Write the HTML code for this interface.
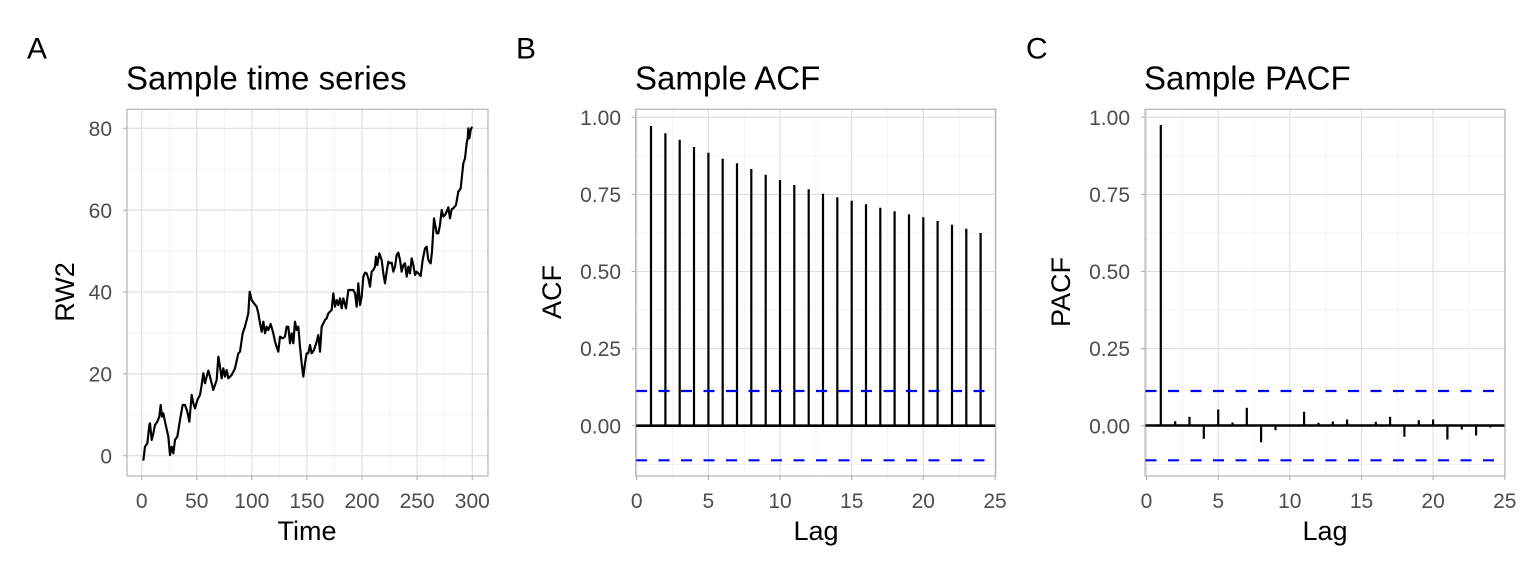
<!DOCTYPE html>
<html><head><meta charset="utf-8"><style>
html,body{margin:0;padding:0;background:#fff;}
svg{display:block;font-family:"Liberation Sans",sans-serif;}
.t{font-size:21px;fill:#4d4d4d;}
.ti{font-size:33px;fill:#000;}
.lt{font-size:30px;fill:#000;}
.ax{font-size:27px;fill:#000;}
.mj{stroke:#dedede;stroke-width:1.1;}
.mn{stroke:#ededed;stroke-width:0.6;}
.bd{fill:none;stroke:#b3b3b3;stroke-width:1.2;}
.tk{stroke:#b3b3b3;stroke-width:1.1;}
.bl{stroke:#0000ff;stroke-width:2.2;stroke-dasharray:11,11.5;}
.st{stroke:#000;stroke-width:2.2;}
</style></head><body>
<svg width="1536" height="576" viewBox="0 0 1536 576">
<rect width="1536" height="576" fill="#fff"/>
<!-- Panel A -->
<text x="27" y="58.5" class="lt">A</text>
<text x="126" y="89.3" class="ti">Sample time series</text>
<g>
<line class="mn" x1="127" x2="488" y1="414.8" y2="414.8"/><line class="mn" x1="127" x2="488" y1="332.9" y2="332.9"/><line class="mn" x1="127" x2="488" y1="251.1" y2="251.1"/><line class="mn" x1="127" x2="488" y1="169.2" y2="169.2"/>
<line class="mn" y1="109" y2="476" x1="169.3" x2="169.3"/><line class="mn" y1="109" y2="476" x1="224.3" x2="224.3"/><line class="mn" y1="109" y2="476" x1="279.4" x2="279.4"/><line class="mn" y1="109" y2="476" x1="334.5" x2="334.5"/><line class="mn" y1="109" y2="476" x1="389.6" x2="389.6"/><line class="mn" y1="109" y2="476" x1="444.7" x2="444.7"/>
<line class="mj" x1="127" x2="488" y1="455.7" y2="455.7"/><line class="mj" x1="127" x2="488" y1="373.85" y2="373.85"/><line class="mj" x1="127" x2="488" y1="292" y2="292"/><line class="mj" x1="127" x2="488" y1="210.2" y2="210.2"/><line class="mj" x1="127" x2="488" y1="128.3" y2="128.3"/>
<line class="mj" y1="109" y2="476" x1="141.7" x2="141.7"/><line class="mj" y1="109" y2="476" x1="196.8" x2="196.8"/><line class="mj" y1="109" y2="476" x1="251.8" x2="251.8"/><line class="mj" y1="109" y2="476" x1="306.9" x2="306.9"/><line class="mj" y1="109" y2="476" x1="362" x2="362"/><line class="mj" y1="109" y2="476" x1="417.1" x2="417.1"/><line class="mj" y1="109" y2="476" x1="472.3" x2="472.3"/>
<g transform="translate(100,100) scale(0.33333)">
<polyline fill="none" stroke="#000" stroke-width="6.5" stroke-linejoin="round" points="130,1082 135,1040 142,1030 148,975 150,970 155,1020 160,1000 165,975 172,965 178,950 182,915 186,950 190,940 195,965 205,1010 210,1065 215,1040 220,1060 225,1020 232,1010 240,960 248,915 255,915 262,935 268,965 275,885 280,910 285,925 292,900 300,885 305,855 310,820 315,850 320,830 325,812 330,830 340,870 350,840 355,770 360,800 365,835 370,805 375,830 380,810 385,835 395,825 405,805 415,760 420,755 428,700 435,680 440,660 445,640 449,575 455,600 462,610 470,620 475,640 480,670 485,695 490,665 495,700 500,680 505,690 512,672 520,700 525,725 535,755 540,710 548,715 555,710 560,680 565,680 570,730 575,700 580,730 585,665 590,690 595,680 600,740 605,790 610,830 615,790 620,760 625,760 630,735 635,760 642,750 650,725 655,705 660,755 665,680 670,670 675,660 680,655 685,640 695,630 700,580 705,620 710,600 715,615 720,595 725,625 730,595 738,625 745,570 750,570 760,570 765,580 770,620 775,550 780,615 785,590 790,530 795,518 800,520 805,535 810,560 815,515 820,510 825,500 828,470 832,495 838,460 845,480 850,520 855,550 860,515 865,485 870,490 875,488 880,515 885,500 890,465 895,458 900,480 905,515 910,495 915,490 920,530 925,500 930,520 935,475 940,495 945,525 950,515 955,520 962,528 968,480 975,445 980,440 985,480 992,490 996,455 1002,355 1010,400 1015,400 1020,375 1025,330 1030,350 1035,345 1040,335 1045,322 1050,355 1055,328 1060,325 1068,315 1075,275 1082,265 1090,190 1095,175 1100,130 1103,115 1105,85 1108,115 1112,90 1116,80"/>
</g>
<rect class="bd" x="127" y="109.3" width="361" height="366.7"/>
<g class="tk"><line x1="141.7" x2="141.7" y1="476" y2="480"/><line x1="196.8" x2="196.8" y1="476" y2="480"/><line x1="251.8" x2="251.8" y1="476" y2="480"/><line x1="306.9" x2="306.9" y1="476" y2="480"/><line x1="362" x2="362" y1="476" y2="480"/><line x1="417.1" x2="417.1" y1="476" y2="480"/><line x1="472.3" x2="472.3" y1="476" y2="480"/>
<line x1="123" x2="127" y1="455.7" y2="455.7"/><line x1="123" x2="127" y1="373.85" y2="373.85"/><line x1="123" x2="127" y1="292" y2="292"/><line x1="123" x2="127" y1="210.2" y2="210.2"/><line x1="123" x2="127" y1="128.3" y2="128.3"/></g>
<g class="t" text-anchor="middle"><text x="141.7" y="508">0</text><text x="196.8" y="508">50</text><text x="251.8" y="508">100</text><text x="306.9" y="508">150</text><text x="362" y="508">200</text><text x="417.1" y="508">250</text><text x="472.3" y="508">300</text></g>
<g class="t" text-anchor="end"><text x="112" y="463.3">0</text><text x="112" y="381.4">20</text><text x="112" y="299.6">40</text><text x="112" y="217.8">60</text><text x="112" y="135.9">80</text></g>
<text x="307" y="540" class="ax" text-anchor="middle">Time</text>
<text transform="translate(74,292) rotate(-90)" class="ax" text-anchor="middle">RW2</text>
</g>

<!-- Panel B -->
<text x="516" y="58.5" class="lt">B</text>
<text x="635" y="89.3" class="ti">Sample ACF</text>
<g>
<g class="mn"><line x1="636" x2="996" y1="155.9" y2="155.9"/><line x1="636" x2="996" y1="233" y2="233"/><line x1="636" x2="996" y1="310" y2="310"/><line x1="636" x2="996" y1="387.2" y2="387.2"/><line x1="636" x2="996" y1="464.3" y2="464.3"/>
<line y1="109" y2="476" x1="672.5" x2="672.5"/><line y1="109" y2="476" x1="744.2" x2="744.2"/><line y1="109" y2="476" x1="815.9" x2="815.9"/><line y1="109" y2="476" x1="887.6" x2="887.6"/><line y1="109" y2="476" x1="959.3" x2="959.3"/></g>
<g class="mj"><line x1="636" x2="996" y1="117.3" y2="117.3"/><line x1="636" x2="996" y1="194.4" y2="194.4"/><line x1="636" x2="996" y1="271.5" y2="271.5"/><line x1="636" x2="996" y1="348.6" y2="348.6"/><line x1="636" x2="996" y1="425.7" y2="425.7"/>
<line y1="109" y2="476" x1="636.7" x2="636.7"/><line y1="109" y2="476" x1="708.4" x2="708.4"/><line y1="109" y2="476" x1="780" x2="780"/><line y1="109" y2="476" x1="851.7" x2="851.7"/><line y1="109" y2="476" x1="923.3" x2="923.3"/><line y1="109" y2="476" x1="995" x2="995"/></g>
<g class="st">
<line x1="651" x2="651" y1="425.7" y2="126"/><line x1="665.4" x2="665.4" y1="425.7" y2="133.3"/><line x1="679.7" x2="679.7" y1="425.7" y2="139.7"/><line x1="694" x2="694" y1="425.7" y2="147"/><line x1="708.4" x2="708.4" y1="425.7" y2="152.7"/><line x1="722.7" x2="722.7" y1="425.7" y2="158.7"/><line x1="737" x2="737" y1="425.7" y2="163.3"/><line x1="751.3" x2="751.3" y1="425.7" y2="169"/><line x1="765.7" x2="765.7" y1="425.7" y2="174.7"/><line x1="780" x2="780" y1="425.7" y2="180"/><line x1="794.3" x2="794.3" y1="425.7" y2="185"/><line x1="808.7" x2="808.7" y1="425.7" y2="189.3"/><line x1="823" x2="823" y1="425.7" y2="193.7"/><line x1="837.3" x2="837.3" y1="425.7" y2="197.3"/><line x1="851.7" x2="851.7" y1="425.7" y2="200.7"/><line x1="866" x2="866" y1="425.7" y2="204.3"/><line x1="880.3" x2="880.3" y1="425.7" y2="207.7"/><line x1="894.6" x2="894.6" y1="425.7" y2="211.3"/><line x1="909" x2="909" y1="425.7" y2="214.3"/><line x1="923.3" x2="923.3" y1="425.7" y2="217.3"/><line x1="937.6" x2="937.6" y1="425.7" y2="221"/><line x1="952" x2="952" y1="425.7" y2="224.7"/><line x1="966.3" x2="966.3" y1="425.7" y2="228.7"/><line x1="980.6" x2="980.6" y1="425.7" y2="233"/>
<line x1="636" x2="995.5" y1="425.7" y2="425.7" stroke-width="2.6"/></g>
<line class="bl" x1="636" x2="995" y1="391" y2="391"/><line class="bl" x1="636" x2="995" y1="460.3" y2="460.3"/>
<rect class="bd" x="635.7" y="109.3" width="360" height="366.7"/>
<g class="tk"><line x1="636.7" x2="636.7" y1="476" y2="480"/><line x1="708.4" x2="708.4" y1="476" y2="480"/><line x1="780" x2="780" y1="476" y2="480"/><line x1="851.7" x2="851.7" y1="476" y2="480"/><line x1="923.3" x2="923.3" y1="476" y2="480"/><line x1="995" x2="995" y1="476" y2="480"/>
<line x1="631.7" x2="635.7" y1="117.3" y2="117.3"/><line x1="631.7" x2="635.7" y1="194.4" y2="194.4"/><line x1="631.7" x2="635.7" y1="271.5" y2="271.5"/><line x1="631.7" x2="635.7" y1="348.6" y2="348.6"/><line x1="631.7" x2="635.7" y1="425.7" y2="425.7"/></g>
<g class="t" text-anchor="middle"><text x="636.7" y="508">0</text><text x="708.4" y="508">5</text><text x="780" y="508">10</text><text x="851.7" y="508">15</text><text x="923.3" y="508">20</text><text x="995" y="508">25</text></g>
<g class="t" text-anchor="end"><text x="621" y="124.9">1.00</text><text x="621" y="202">0.75</text><text x="621" y="279.1">0.50</text><text x="621" y="356.2">0.25</text><text x="621" y="433.3">0.00</text></g>
<text x="816" y="540" class="ax" text-anchor="middle">Lag</text>
<text transform="translate(561,292) rotate(-90)" class="ax" text-anchor="middle">ACF</text>
</g>

<!-- Panel C -->
<text x="1026" y="58.5" class="lt">C</text>
<text x="1144" y="89.3" class="ti">Sample PACF</text>
<g>
<g class="mn"><line x1="1145" x2="1505" y1="155.9" y2="155.9"/><line x1="1145" x2="1505" y1="233" y2="233"/><line x1="1145" x2="1505" y1="310" y2="310"/><line x1="1145" x2="1505" y1="387.2" y2="387.2"/><line x1="1145" x2="1505" y1="464.3" y2="464.3"/>
<line y1="109" y2="476" x1="1182.3" x2="1182.3"/><line y1="109" y2="476" x1="1254" x2="1254"/><line y1="109" y2="476" x1="1325.7" x2="1325.7"/><line y1="109" y2="476" x1="1397.4" x2="1397.4"/><line y1="109" y2="476" x1="1469.1" x2="1469.1"/></g>
<g class="mj"><line x1="1145" x2="1505" y1="117.3" y2="117.3"/><line x1="1145" x2="1505" y1="194.4" y2="194.4"/><line x1="1145" x2="1505" y1="271.5" y2="271.5"/><line x1="1145" x2="1505" y1="348.6" y2="348.6"/><line x1="1145" x2="1505" y1="425.7" y2="425.7"/>
<line y1="109" y2="476" x1="1146.5" x2="1146.5"/><line y1="109" y2="476" x1="1218.2" x2="1218.2"/><line y1="109" y2="476" x1="1289.8" x2="1289.8"/><line y1="109" y2="476" x1="1361.5" x2="1361.5"/><line y1="109" y2="476" x1="1433.1" x2="1433.1"/><line y1="109" y2="476" x1="1504.8" x2="1504.8"/></g>
<g class="st">
<line x1="1160.8" x2="1160.8" y1="425.5" y2="125"/><line x1="1175.2" x2="1175.2" y1="425.5" y2="421.2"/><line x1="1189.5" x2="1189.5" y1="425.5" y2="416.8"/><line x1="1203.8" x2="1203.8" y1="425.5" y2="438.8"/><line x1="1218.2" x2="1218.2" y1="425.5" y2="409.5"/><line x1="1232.5" x2="1232.5" y1="425.5" y2="422.5"/><line x1="1246.8" x2="1246.8" y1="425.5" y2="407.8"/><line x1="1261.1" x2="1261.1" y1="425.5" y2="442.2"/><line x1="1275.5" x2="1275.5" y1="425.5" y2="430.2"/><line x1="1304.1" x2="1304.1" y1="425.5" y2="411.8"/><line x1="1318.5" x2="1318.5" y1="425.5" y2="422.8"/><line x1="1332.8" x2="1332.8" y1="425.5" y2="421.5"/><line x1="1347.1" x2="1347.1" y1="425.5" y2="419.5"/><line x1="1375.8" x2="1375.8" y1="425.5" y2="421.8"/><line x1="1390.1" x2="1390.1" y1="425.5" y2="416.8"/><line x1="1404.4" x2="1404.4" y1="425.5" y2="436.8"/><line x1="1418.8" x2="1418.8" y1="425.5" y2="420.2"/><line x1="1433.1" x2="1433.1" y1="425.5" y2="419.5"/><line x1="1447.4" x2="1447.4" y1="425.5" y2="439.5"/><line x1="1461.8" x2="1461.8" y1="425.5" y2="429.5"/><line x1="1476.1" x2="1476.1" y1="425.5" y2="435.5"/><line x1="1490.4" x2="1490.4" y1="425.5" y2="427.5"/>
<line x1="1145" x2="1505" y1="425.5" y2="425.5" stroke-width="2.6"/></g>
<line class="bl" x1="1145.5" x2="1504.5" y1="391" y2="391"/><line class="bl" x1="1145.5" x2="1504.5" y1="460.3" y2="460.3"/>
<rect class="bd" x="1145" y="109.3" width="360" height="366.7"/>
<g class="tk"><line x1="1146.5" x2="1146.5" y1="476" y2="480"/><line x1="1218.2" x2="1218.2" y1="476" y2="480"/><line x1="1289.8" x2="1289.8" y1="476" y2="480"/><line x1="1361.5" x2="1361.5" y1="476" y2="480"/><line x1="1433.1" x2="1433.1" y1="476" y2="480"/><line x1="1504.8" x2="1504.8" y1="476" y2="480"/>
<line x1="1141" x2="1145" y1="117.3" y2="117.3"/><line x1="1141" x2="1145" y1="194.4" y2="194.4"/><line x1="1141" x2="1145" y1="271.5" y2="271.5"/><line x1="1141" x2="1145" y1="348.6" y2="348.6"/><line x1="1141" x2="1145" y1="425.7" y2="425.7"/></g>
<g class="t" text-anchor="middle"><text x="1146.5" y="508">0</text><text x="1218.2" y="508">5</text><text x="1289.8" y="508">10</text><text x="1361.5" y="508">15</text><text x="1433.1" y="508">20</text><text x="1504.8" y="508">25</text></g>
<g class="t" text-anchor="end"><text x="1130" y="124.9">1.00</text><text x="1130" y="202">0.75</text><text x="1130" y="279.1">0.50</text><text x="1130" y="356.2">0.25</text><text x="1130" y="433.3">0.00</text></g>
<text x="1325" y="540" class="ax" text-anchor="middle">Lag</text>
<text transform="translate(1070,292) rotate(-90)" class="ax" text-anchor="middle">PACF</text>
</g>
</svg>
</body></html>
